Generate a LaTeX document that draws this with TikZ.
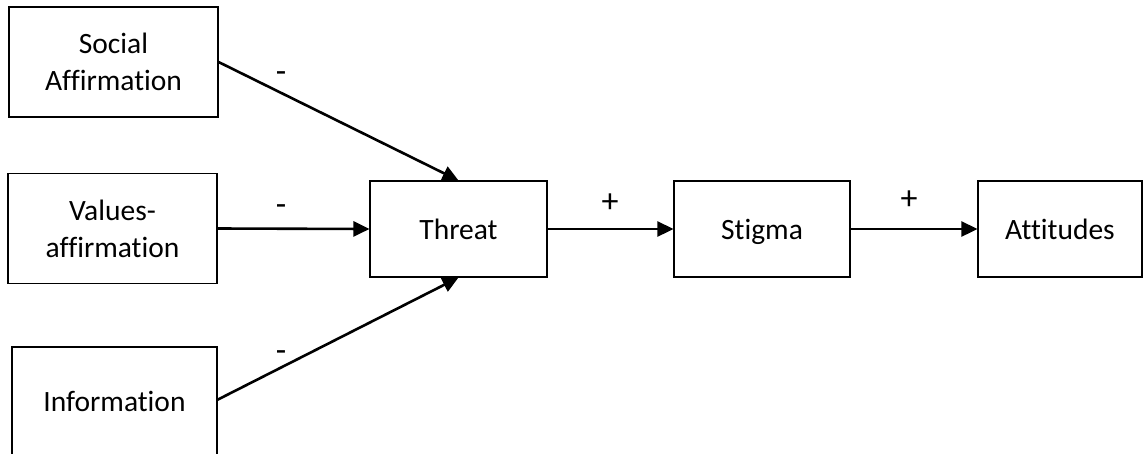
\documentclass[tikz,border=0pt]{standalone}
\usepackage{fontspec}
\setmainfont{Carlito}[Ligatures=NoCommon]
\usetikzlibrary{arrows.meta}
\begin{document}
\begin{tikzpicture}[x=1pt,y=-1pt,
  box/.style={draw=black, line width=1.1pt, fill=white, align=center, inner sep=0pt,
    font=\fontsize{29.5}{37}\selectfont},
  one/.style={text height=27pt, text depth=7pt},
  conn/.style={line width=2.6pt, -{Triangle[length=16pt,width=15pt]}},
  sign/.style={font=\fontsize{34}{40}\selectfont, inner sep=0pt}]
\useasboundingbox (0,0) rectangle (1143,453);
\clip (0,0) rectangle (1143,453);
\node[box, minimum width=209pt, minimum height=110pt] (sa) at (113.5,62) {Social\\Affirmation};
\node[box, minimum width=209pt, minimum height=110pt] (va) at (112.5,228.5) {Values-\\affirmation};
\node[box, minimum width=205pt, minimum height=112pt] (inf) at (114.5,403) {};
\node[font=\fontsize{29.5}{37}\selectfont, one, inner sep=0pt] (inft) at (114.5,401) {Information};
\node[box, one, minimum width=177pt, minimum height=96pt] (th) at (458.5,229) {Threat};
\node[box, one, minimum width=176pt, minimum height=96pt] (st) at (762,229) {Stigma};
\node[box, one, minimum width=164pt, minimum height=96pt] (at) at (1060,229) {Attitudes};
\coordinate (infe) at (217,400);
\draw[conn] (sa.east) -- (th.north);
\draw[conn] (va.east) -- (th.west);
\draw[conn] (infe) -- (th.south);
\draw[conn] (th.east) -- (st.west);
\draw[conn] (st.east) -- (at.west);
\node[sign] (m1) at (281,77) {-};
\node[sign] (m2) at (281,210) {-};
\node[sign] (m3) at (281,356) {-};
\node[sign] (p1) at (610,203) {+};
\node[sign] (p2) at (909,200) {+};
\end{tikzpicture}
\end{document}
